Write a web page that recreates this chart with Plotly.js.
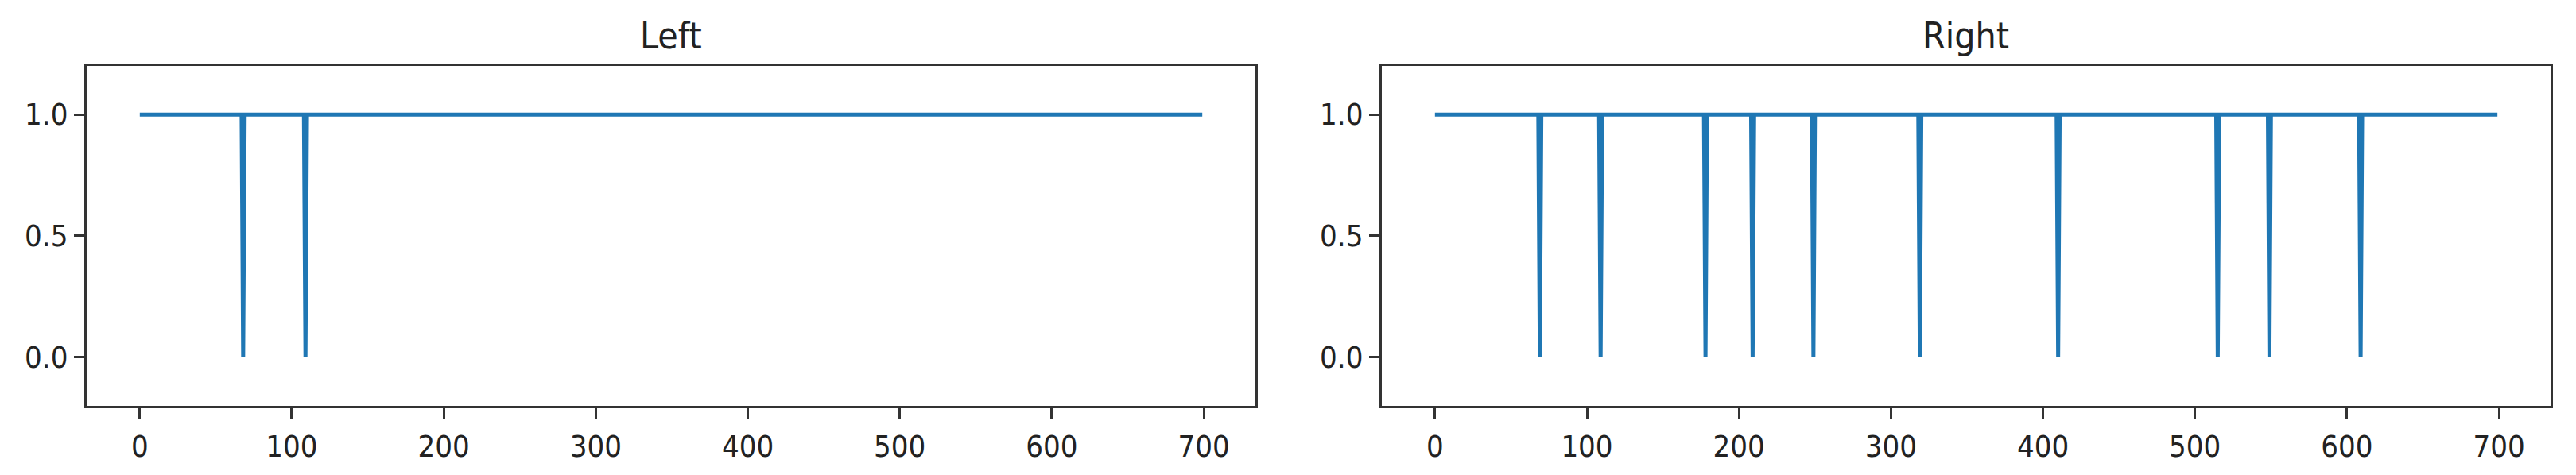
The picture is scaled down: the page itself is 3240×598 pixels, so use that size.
<!DOCTYPE html>
<html>
<head>
<meta charset="utf-8">
<script src="https://cdn.plot.ly/plotly-3.0.1.min.js"></script>
<style>
  body { margin: 0; background: #fff; }
  #plot { width: 3240px; height: 598px; }
</style>
</head>
<body>
<div id="plot"></div>
<script>
// signal is 1 everywhere except single-sample drops to 0
var leftX = [0, 67, 68, 69, 108, 109, 110, 699];
var leftY = [1, 1, 0, 1, 1, 0, 1, 1];

var rightX = [0,
  68, 69, 70,
  108, 109, 110,
  177, 178, 179,
  208, 209, 210,
  248, 249, 250,
  318, 319, 320,
  409, 410, 411,
  514, 515, 516,
  548, 549, 550,
  608, 609, 610,
  699];
var rightY = [1,
  1, 0, 1,
  1, 0, 1,
  1, 0, 1,
  1, 0, 1,
  1, 0, 1,
  1, 0, 1,
  1, 0, 1,
  1, 0, 1,
  1, 0, 1,
  1, 0, 1,
  1];

var titles = ["Left", "Right"];
var xTicks = [0, 100, 200, 300, 400, 500, 600, 700];
var yTicks = [0, 0.5, 1];

var lineColor = "#1f77b4";
var font = "DejaVu Sans Condensed, DejaVu Sans, sans-serif";

var trace1 = {
  x: leftX, y: leftY, type: "scatter", mode: "lines",
  line: { color: lineColor, width: 5 },
  xaxis: "x", yaxis: "y"
};
var trace2 = {
  x: rightX, y: rightY, type: "scatter", mode: "lines",
  line: { color: lineColor, width: 5 },
  xaxis: "x2", yaxis: "y2"
};

var data = [trace1, trace2];

function xAxis(domain, anchor) {
  return {
    domain: domain, anchor: anchor,
    range: [-34.95, 733.95],
    tickvals: xTicks,
    ticks: "outside", ticklen: 13, tickwidth: 3, tickcolor: "#333",
    ticklabelstandoff: 2,
    showline: true, mirror: true, linecolor: "#333", linewidth: 3,
    showgrid: false, zeroline: false,
    tickfont: { family: font, size: 38, color: "#222" }
  };
}
function yAxis(domain, anchor) {
  return {
    domain: domain, anchor: anchor,
    range: [-0.2, 1.2],
    tickvals: yTicks, tickformat: ".1f",
    ticks: "outside", ticklen: 13, tickwidth: 3, tickcolor: "#333",
    ticklabelstandoff: 0,
    showline: true, mirror: true, linecolor: "#333", linewidth: 3,
    showgrid: false, zeroline: false,
    tickfont: { family: font, size: 38, color: "#222" }
  };
}

var yDom = [0.1455, 0.8612];
var leftDom = [0.03364, 0.48735];
var rightDom = [0.53642, 0.99012];

var layout = {
  width: 3240, height: 598,
  margin: { l: 0, r: 0, t: 0, b: 0 },
  showlegend: false,
  paper_bgcolor: "#fff", plot_bgcolor: "#fff",
  xaxis: xAxis(leftDom, "y"),
  yaxis: yAxis(yDom, "x"),
  xaxis2: xAxis(rightDom, "y2"),
  yaxis2: yAxis(yDom, "x2"),
  annotations: [
    { text: titles[0], xref: "paper", yref: "paper",
      x: (leftDom[0] + leftDom[1]) / 2, y: 1 - 45 / 598,
      xanchor: "center", yanchor: "middle", showarrow: false,
      font: { family: font, size: 46, color: "#222" } },
    { text: titles[1], xref: "paper", yref: "paper",
      x: (rightDom[0] + rightDom[1]) / 2, y: 1 - 45 / 598,
      xanchor: "center", yanchor: "middle", showarrow: false,
      font: { family: font, size: 46, color: "#222" } }
  ]
};

Plotly.newPlot("plot", data, layout, { staticPlot: true });
</script>
</body>
</html>
